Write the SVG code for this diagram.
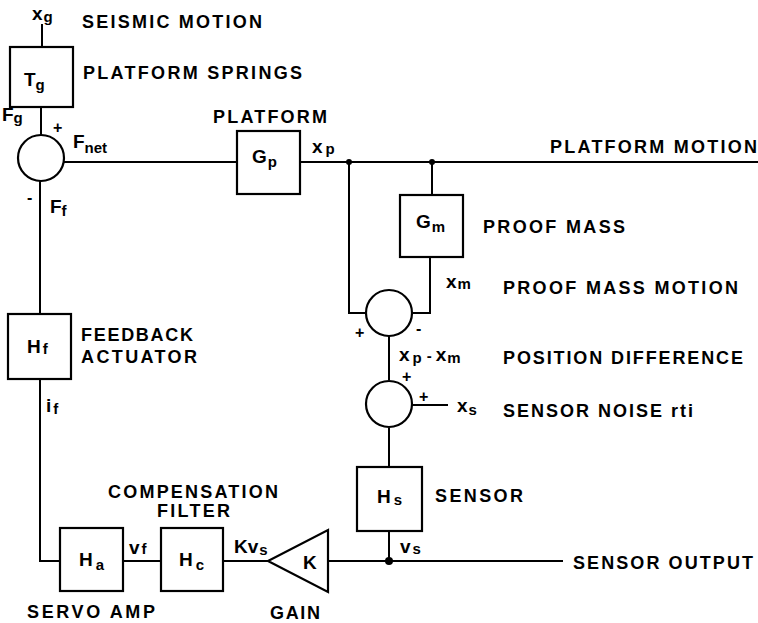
<svg xmlns="http://www.w3.org/2000/svg" width="758" height="623" viewBox="0 0 758 623">
<style>
  .ln { fill: none; stroke: #000; stroke-width: 2; }
  .box { fill: #fff; stroke: #000; stroke-width: 2.2; }
  .sum { fill: #fff; stroke: #000; stroke-width: 2.2; }
  .dot { fill: #000; }
  text { font-family: "Liberation Sans", Arial, Helvetica, sans-serif; fill: #000; font-weight: bold; }
  .lbl { font-size: 18px; }
  .sym { font-size: 19px; }
  .sub { font-size: 15px; }
  .sgn { font-size: 16px; }
</style>
<rect width="758" height="623" fill="#fff"/>

<g id="connectors">
  <path class="ln" d="M42,24 V47"/>
  <path class="ln" d="M41,107 V135"/>
  <path class="ln" d="M64,162 H237"/>
  <path class="ln" d="M300,162 H758"/>
  <path class="ln" d="M432,162 V195"/>
  <path class="ln" d="M349,162 V313 H366"/>
  <path class="ln" d="M430,257 V313 H412"/>
  <path class="ln" d="M389,336 V380"/>
  <path class="ln" d="M412,405 H448"/>
  <path class="ln" d="M389,428 V467"/>
  <path class="ln" d="M389,531 V561"/>
  <path class="ln" d="M328,561 H563"/>
  <path class="ln" d="M223,561 H268"/>
  <path class="ln" d="M123,561 H161"/>
  <path class="ln" d="M40,181 V314"/>
  <path class="ln" d="M40,379 V561 H60"/>
  <circle class="dot" cx="349" cy="162" r="3"/>
  <circle class="dot" cx="432" cy="162" r="3"/>
  <circle class="dot" cx="389" cy="561" r="4"/>
</g>

<g id="input-xg">
  <text class="sym" x="32" y="20">x<tspan class="sub" dx="1" dy="2">g</tspan></text>
  <text class="lbl" x="82" y="28" textLength="180" lengthAdjust="spacing">SEISMIC MOTION</text>
</g>

<g id="node-Tg">
  <rect class="box" x="10" y="47" width="63" height="60"/>
  <text class="sym" x="24" y="86">T<tspan class="sub" dy="4">g</tspan></text>
  <text class="lbl" x="83" y="79" textLength="219" lengthAdjust="spacing">PLATFORM SPRINGS</text>
</g>

<g id="sum-force">
  <circle class="sum" cx="41" cy="158" r="23"/>
  <text class="sym" x="2" y="121">F<tspan class="sub" dy="2">g</tspan></text>
  <text class="sgn" x="53" y="133">+</text>
  <text class="sym" x="73" y="148">F<tspan class="sub" dy="5">net</tspan></text>
  <text class="sgn" x="27" y="203">-</text>
  <text class="sym" x="50" y="213">F<tspan class="sub" dy="3">f</tspan></text>
</g>

<g id="node-Gp">
  <rect class="box" x="237" y="131" width="63" height="63"/>
  <text class="sym" x="252" y="163">G<tspan class="sub" dx="1" dy="4">p</tspan></text>
  <text class="lbl" x="213" y="123" textLength="114" lengthAdjust="spacing">PLATFORM</text>
  <text class="sym" x="312" y="153">x<tspan class="sub" dx="3" dy="1">p</tspan></text>
  <text class="lbl" x="550" y="153" textLength="207" lengthAdjust="spacing">PLATFORM MOTION</text>
</g>

<g id="node-Gm">
  <rect class="box" x="400" y="195" width="63" height="62"/>
  <text class="sym" x="416" y="228">G<tspan class="sub" dx="1" dy="4">m</tspan></text>
  <text class="lbl" x="483" y="233" textLength="142" lengthAdjust="spacing">PROOF MASS</text>
  <text class="sym" x="446" y="288">x<tspan class="sub" dx="1" dy="1">m</tspan></text>
  <text class="lbl" x="503" y="294" textLength="235" lengthAdjust="spacing">PROOF MASS MOTION</text>
</g>

<g id="sum-position">
  <circle class="sum" cx="389" cy="313" r="23"/>
  <text class="sgn" x="355" y="338">+</text>
  <text class="sgn" x="416" y="334">-</text>
  <text class="sym" x="399" y="361">x<tspan class="sub" dx="3" dy="2">p</tspan><tspan class="sub" dx="5" dy="-2">-</tspan><tspan dx="4">x</tspan><tspan class="sub" dx="1" dy="2">m</tspan></text>
  <text class="lbl" x="503" y="364" textLength="240" lengthAdjust="spacing">POSITION DIFFERENCE</text>
</g>

<g id="sum-noise">
  <circle class="sum" cx="389" cy="404" r="23"/>
  <text class="sgn" x="402" y="382">+</text>
  <text class="sgn" x="419" y="402">+</text>
  <text class="sym" x="457" y="412">x<tspan class="sub" dx="1" dy="3">s</tspan></text>
  <text class="lbl" x="503" y="417" textLength="190" lengthAdjust="spacing">SENSOR NOISE rti</text>
</g>

<g id="node-Hs">
  <rect class="box" x="357" y="467" width="65" height="64"/>
  <text class="sym" x="377" y="503">H<tspan class="sub" dx="3" dy="2">s</tspan></text>
  <text class="lbl" x="435" y="502" textLength="88" lengthAdjust="spacing">SENSOR</text>
  <text class="sym" x="400" y="553">v<tspan class="sub" dx="2" dy="1">s</tspan></text>
  <text class="lbl" x="573" y="569" textLength="180" lengthAdjust="spacing">SENSOR OUTPUT</text>
</g>

<g id="node-K">
  <polygon class="box" points="328,530 328,592 268,561"/>
  <text class="sym" x="303" y="569">K</text>
  <text class="sym" x="234" y="553">K<tspan>v</tspan><tspan class="sub" dx="1" dy="2">s</tspan></text>
  <text class="lbl" x="270" y="619" textLength="50" lengthAdjust="spacing">GAIN</text>
</g>

<g id="node-Hc">
  <rect class="box" x="161" y="528" width="62" height="63"/>
  <text class="sym" x="179" y="566">H<tspan class="sub" dx="3" dy="4">c</tspan></text>
  <text class="lbl" x="108" y="498" textLength="170" lengthAdjust="spacing">COMPENSATION</text>
  <text class="lbl" x="157" y="517" textLength="73" lengthAdjust="spacing">FILTER</text>
</g>

<g id="node-Ha">
  <rect class="box" x="60" y="528" width="63" height="63"/>
  <text class="sym" x="79" y="566">H<tspan class="sub" dx="3" dy="4">a</tspan></text>
  <text class="sym" x="129" y="554">v<tspan class="sub" dx="2">f</tspan></text>
  <text class="lbl" x="27" y="618" textLength="128" lengthAdjust="spacing">SERVO AMP</text>
</g>

<g id="node-Hf">
  <rect class="box" x="8" y="314" width="63" height="65"/>
  <text class="sym" x="27" y="353">H<tspan class="sub" dx="2" dy="1">f</tspan></text>
  <text class="lbl" x="81" y="341" textLength="112" lengthAdjust="spacing">FEEDBACK</text>
  <text class="lbl" x="81" y="363" textLength="116" lengthAdjust="spacing">ACTUATOR</text>
  <text class="sym" x="46" y="412">i<tspan class="sub" dx="2" dy="2">f</tspan></text>
</g>
</svg>
